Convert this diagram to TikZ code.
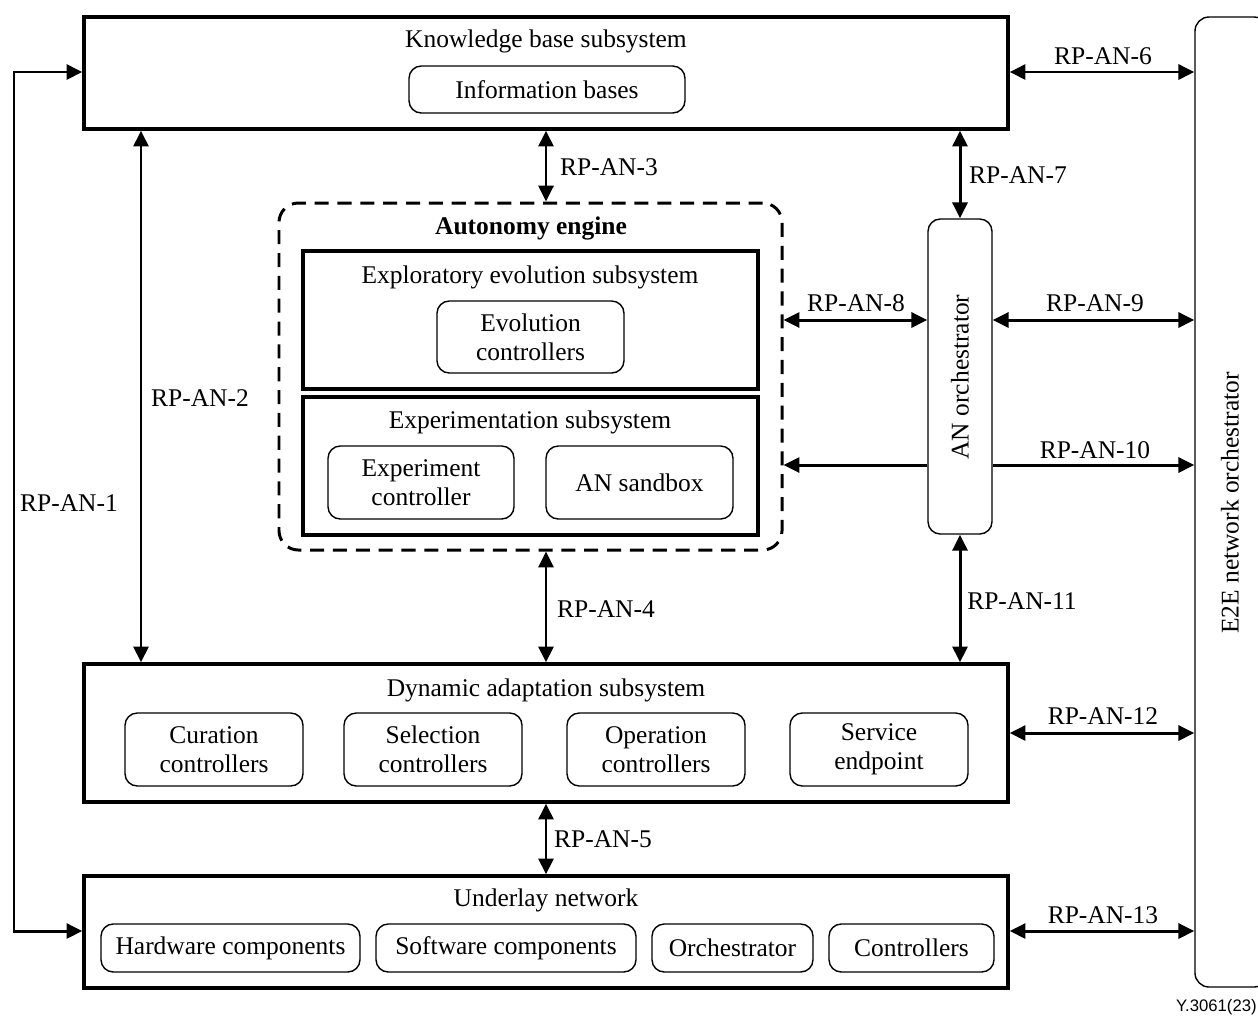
\documentclass[tikz,border=0pt]{standalone}
\usepackage{fontspec}
\setmainfont{Liberation Serif}
\newfontfamily\figsans{Liberation Sans}
\usetikzlibrary{arrows.meta,fit}
\begin{document}
\begin{tikzpicture}[x=0.02cm,y=-0.02cm,
  font=\fontsize{14.5}{16.5}\selectfont,
  sysbox/.style={draw, line width=1.9pt, inner sep=0pt},
  unitbox/.style={draw, line width=0.8pt, rounded corners=7pt, inner sep=0pt},
  boxtext/.style={align=center, inner sep=0pt},
  tip/.tip={Triangle[length=9pt,width=8.5pt]},
  link/.style={line width=1.7pt, -tip},
  dlink/.style={line width=1.7pt, tip-tip},
  rp/.style={inner sep=1pt},
]
\useasboundingbox (0,0) rectangle (1258,1015);

% ---- knowledge base subsystem ----
\node[sysbox, fit={(84,17)(1008,129)}] (kb) {};
\node (kbt) at (546,41) {Knowledge base subsystem};
\node[unitbox, fit={(409,66)(685,113)}] (ib) {};
\node[boxtext] (ibt) at (ib.center) {Information bases};

% ---- E2E network orchestrator ----
\node[draw, line width=0.8pt, rounded corners=8pt, inner sep=0pt, fit={(1195,17)(1268,987)}] (e2e) {};
\node[rotate=90] (e2et) at (1230,503) {E2E network orchestrator};
\node[font=\figsans\fontsize{9.5}{11}\selectfont, anchor=base east, inner sep=0pt] (fig) at (1257,1011) {Y.3061(23)};

% ---- autonomy engine ----
\node[draw, line width=1.7pt, dash pattern=on 8pt off 5pt, rounded corners=11pt, inner sep=0pt, fit={(279,203)(782,550)}] (ae) {};
\node[font=\bfseries\fontsize{14.5}{16.5}\selectfont] (aet) at (531,228) {Autonomy engine};

\node[sysbox, fit={(303,251)(758,389)}] (ees) {};
\node (eest) at (530,277) {Exploratory evolution subsystem};
\node[unitbox, fit={(437,301)(624,373)}] (evc) {};
\node[boxtext] (evct) at (evc.center) {Evolution\\controllers};

\node[sysbox, fit={(303,397)(758,535)}] (exs) {};
\node (exst) at (530,422) {Experimentation subsystem};
\node[unitbox, fit={(328,446)(514,519)}] (exc) {};
\node[boxtext] (exct) at (exc.center) {Experiment\\controller};
\node[unitbox, fit={(546,446)(733,519)}] (sbx) {};
\node[boxtext] (sbxt) at (sbx.center) {AN sandbox};

% ---- AN orchestrator ----
\node[draw, line width=0.8pt, rounded corners=7pt, inner sep=0pt, fit={(928,219)(992,534)}] (ano) {};
\node[rotate=90] (anot) at (960,377) {AN orchestrator};

% ---- dynamic adaptation subsystem ----
\node[sysbox, fit={(84,664)(1008,802)}] (da) {};
\node (dat) at (546,690) {Dynamic adaptation subsystem};
\node[unitbox, fit={(125,713)(303,786)}] (cur) {};
\node[boxtext] (curt) at (cur.center) {Curation\\controllers};
\node[unitbox, fit={(344,713)(522,786)}] (sel) {};
\node[boxtext] (selt) at (sel.center) {Selection\\controllers};
\node[unitbox, fit={(567,713)(745,786)}] (opc) {};
\node[boxtext] (opct) at (opc.center) {Operation\\controllers};
\node[unitbox, fit={(790,713)(968,786)}] (sep) {};
\node[boxtext] (sept) at (sep.center) {Service\\endpoint};

% ---- underlay network ----
\node[sysbox, fit={(84,876)(1008,988)}] (un) {};
\node (unt) at (546,900) {Underlay network};
\node[unitbox, fit={(101,924)(360,972)}] (hw) {};
\node[boxtext] (hwt) at (hw.center) {Hardware components};
\node[unitbox, fit={(376,924)(636,972)}] (sw) {};
\node[boxtext] (swt) at (sw.center) {Software components};
\node[unitbox, fit={(652,924)(813,972)}] (orc) {};
\node[boxtext] (orct) at (orc.center) {Orchestrator};
\node[unitbox, fit={(829,924)(994,972)}] (ctl) {};
\node[boxtext] (ctlt) at (ctl.center) {Controllers};

% ---- reference points ----
\coordinate (l1) at (14,72);
\coordinate (l2) at (14,931);
\coordinate (x2) at (141,0);
\coordinate (xm) at (546,0);
\coordinate (xo) at (960,0);
\coordinate (y6) at (0,72);
\coordinate (y9) at (0,320);
\coordinate (y10) at (0,465);
\coordinate (y12) at (0,733);
\coordinate (y13) at (0,931);

\draw[dlink] (kb.west |- l1) -- (l1) -- (l2) -- (un.west |- l2);
\node[rp] (rp1) at (69,503) {RP-AN-1};

\draw[dlink] (kb.south -| x2) -- (da.north -| x2);
\node[rp] (rp2) at (200,398) {RP-AN-2};

\draw[dlink] (kb.south -| xm) -- (ae.north -| xm);
\node[rp] (rp3) at (609,167) {RP-AN-3};

\draw[dlink] (ae.south -| xm) -- (da.north -| xm);
\node[rp] (rp4) at (606,609) {RP-AN-4};

\draw[dlink] (da.south -| xm) -- (un.north -| xm);
\node[rp] (rp5) at (603,839) {RP-AN-5};

\draw[dlink] (kb.east |- y6) -- (e2e.west |- y6);
\node[rp] (rp6) at (1103,56) {RP-AN-6};

\draw[dlink] (kb.south -| xo) -- (ano.north -| xo);
\node[rp] (rp7) at (1018,175) {RP-AN-7};

\draw[dlink] (ae.east |- y9) -- (ano.west |- y9);
\node[rp] (rp8) at (856,303) {RP-AN-8};

\draw[dlink] (ano.east |- y9) -- (e2e.west |- y9);
\node[rp] (rp9) at (1095,303) {RP-AN-9};

\draw[link] (ano.west |- y10) -- (ae.east |- y10);
\draw[link] (ano.east |- y10) -- (e2e.west |- y10);
\node[rp] (rp10) at (1095,450) {RP-AN-10};

\draw[dlink] (ano.south -| xo) -- (da.north -| xo);
\node[rp] (rp11) at (1022,601) {RP-AN-11};

\draw[dlink] (da.east |- y12) -- (e2e.west |- y12);
\node[rp] (rp12) at (1103,716) {RP-AN-12};

\draw[dlink] (un.east |- y13) -- (e2e.west |- y13);
\node[rp] (rp13) at (1103,915) {RP-AN-13};
\end{tikzpicture}
\end{document}
